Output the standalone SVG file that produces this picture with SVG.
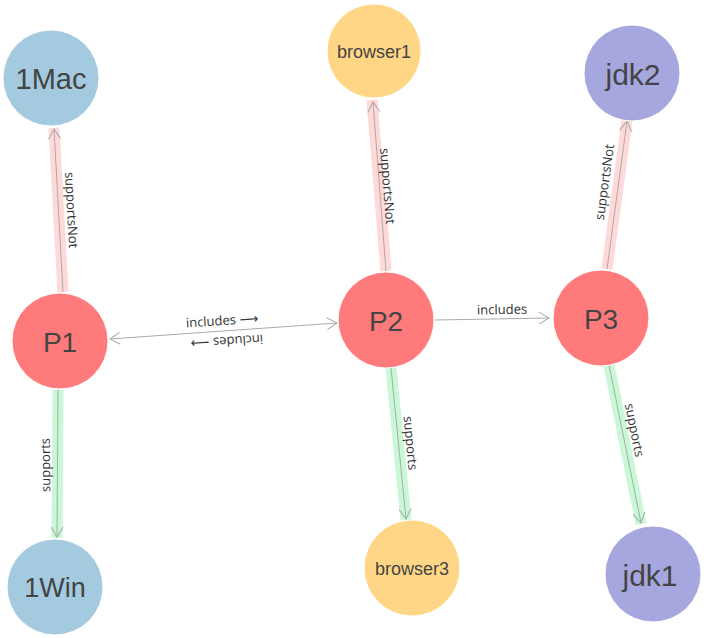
<svg xmlns="http://www.w3.org/2000/svg" width="704" height="638" viewBox="0 0 704 638">
<style>
.bg{fill:#ffffff}
.node circle{stroke:#ffffff;stroke-width:1}
.blue{fill:#a3cadf}
.red{fill:#ff7a7a}
.orange{fill:#ffd685}
.purple{fill:#a6a7de}
.nt{font-family:"Liberation Sans",Arial,sans-serif;fill:#444;text-anchor:middle;dominant-baseline:central}
.band{fill:none;stroke-width:11;stroke-linecap:butt}
.pink{stroke:#ffd9d9}
.green{stroke:#c8f8d6}
.ln{fill:none;stroke:#aaaaaa;stroke-width:1}
.lbl{font-family:"Open Sans","Liberation Sans",Arial,sans-serif;font-size:13px;fill:#333;text-anchor:middle;dominant-baseline:central}
</style>
<defs>
<marker id="arr" markerUnits="userSpaceOnUse" viewBox="-12 -8 14 16" refX="0" refY="0" markerWidth="14" markerHeight="16" orient="auto-start-reverse">
<path d="M-10,-6 L0,0 L-10,6" fill="none" stroke="#aaaaaa" stroke-width="1"/>
</marker>
</defs>
<rect class="bg" x="0" y="0" width="704" height="638"/>
<g id="connectors">
<g id="e-p1-1mac">
<line class="band pink" x1="63" y1="292" x2="54" y2="128"/>
<line class="ln" x1="63" y1="292" x2="54" y2="129" marker-end="url(#arr)"/>
<text class="lbl" transform="translate(72,210) rotate(86.9)">supportsNot</text>
</g>
<g id="e-p1-1win">
<line class="band green" x1="58" y1="390" x2="57" y2="538"/>
<line class="ln" x1="58" y1="390" x2="57" y2="537" marker-end="url(#arr)"/>
<text class="lbl" transform="translate(45,465) rotate(-90.4)">supports</text>
</g>
<g id="e-p1-p2">
<line class="ln" x1="110" y1="339" x2="337" y2="323" marker-start="url(#arr)" marker-end="url(#arr)"/>
<text class="lbl" transform="translate(222,320) rotate(-4)">includes ⟶</text>
<text class="lbl" transform="translate(227,342) rotate(176)">includes ⟶</text>
</g>
<g id="e-p2-p3">
<line class="ln" x1="435" y1="320" x2="549" y2="318" marker-end="url(#arr)"/>
<text class="lbl" transform="translate(502,309) rotate(-1)">includes</text>
</g>
<g id="e-p2-browser1">
<line class="band pink" x1="386" y1="271" x2="372" y2="100"/>
<line class="ln" x1="386" y1="271" x2="373" y2="102" marker-end="url(#arr)"/>
<text class="lbl" transform="translate(388,186) rotate(85.3)">supportsNot</text>
</g>
<g id="e-p3-jdk2">
<line class="band pink" x1="607" y1="269" x2="627" y2="120"/>
<line class="ln" x1="607" y1="269" x2="627" y2="121" marker-end="url(#arr)"/>
<text class="lbl" transform="translate(604,182) rotate(-82.3)">supportsNot</text>
</g>
<g id="e-p2-browser3">
<line class="band green" x1="391" y1="368" x2="406" y2="520"/>
<line class="ln" x1="391" y1="368" x2="406" y2="519" marker-end="url(#arr)"/>
<text class="lbl" transform="translate(411,443) rotate(84.4)">supports</text>
</g>
<g id="e-p3-jdk1">
<line class="band green" x1="609" y1="365" x2="641" y2="524"/>
<line class="ln" x1="609" y1="365" x2="641" y2="523" marker-end="url(#arr)"/>
<text class="lbl" transform="translate(635,430) rotate(78.5)">supports</text>
</g>
</g>
<g id="n-1mac" class="node"><circle class="blue" cx="51" cy="78" r="48"/><text class="nt" x="51" y="79" font-size="29">1Mac</text></g>
<g id="n-p1" class="node"><circle class="red" cx="60" cy="341" r="48"/><text class="nt" x="60" y="342" font-size="28">P1</text></g>
<g id="n-1win" class="node"><circle class="blue" cx="55" cy="587" r="48"/><text class="nt" x="55" y="588" font-size="27">1Win</text></g>
<g id="n-browser1" class="node"><circle class="orange" cx="374" cy="51" r="47"/><text class="nt" x="374" y="52" font-size="18">browser1</text></g>
<g id="n-p2" class="node"><circle class="red" cx="386" cy="320" r="48"/><text class="nt" x="386" y="321" font-size="28">P2</text></g>
<g id="n-browser3" class="node"><circle class="orange" cx="412" cy="568" r="48"/><text class="nt" x="412" y="569" font-size="18">browser3</text></g>
<g id="n-jdk2" class="node"><circle class="purple" cx="632" cy="73" r="48"/><text class="nt" x="633" y="74" font-size="30">jdk2</text></g>
<g id="n-p3" class="node"><circle class="red" cx="601" cy="318" r="48"/><text class="nt" x="601" y="319" font-size="28">P3</text></g>
<g id="n-jdk1" class="node"><circle class="purple" cx="653" cy="574" r="48"/><text class="nt" x="650" y="575" font-size="30">jdk1</text></g>
</svg>
